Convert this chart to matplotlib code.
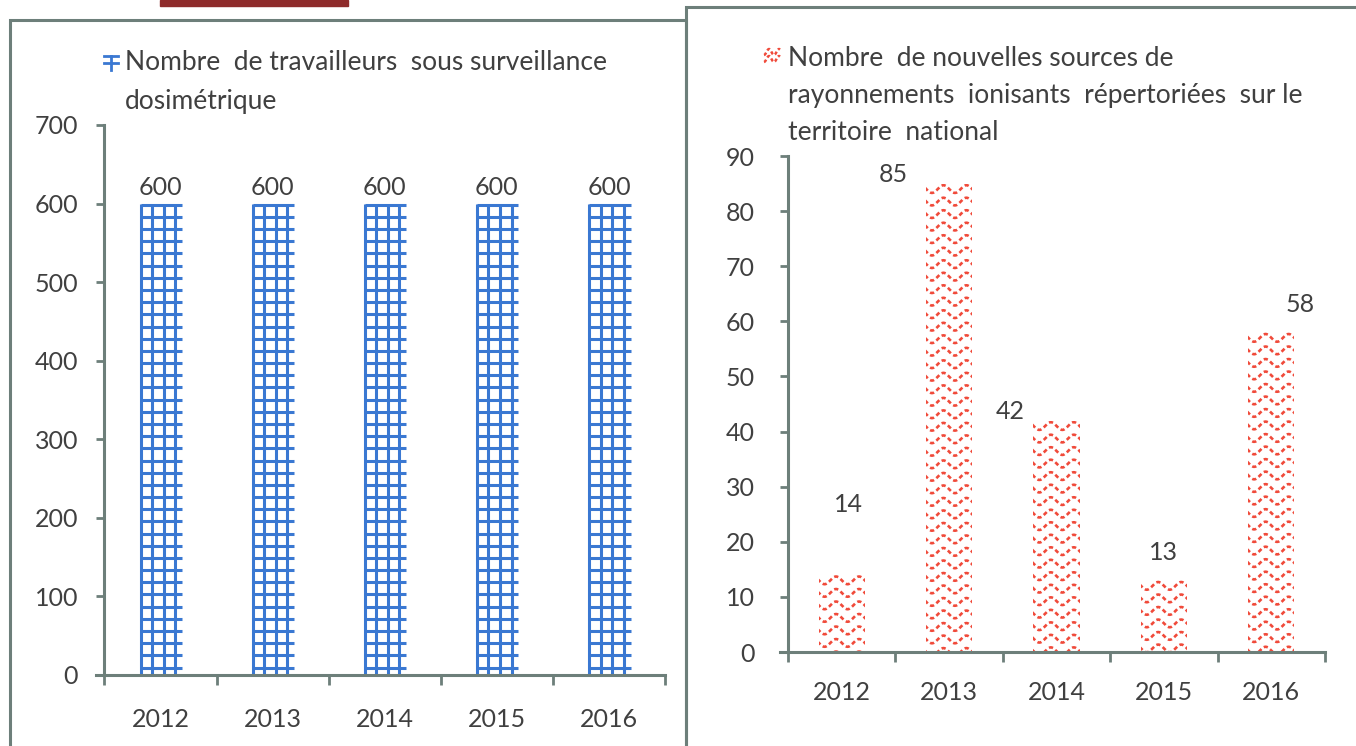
import numpy as np
import matplotlib
matplotlib.use("Agg")
import matplotlib.pyplot as plt
from matplotlib.patches import Rectangle
from matplotlib.lines import Line2D

plt.rcParams['font.family'] = ['Lato', 'DejaVu Sans']

# data
years = ['2012', '2013', '2014', '2015', '2016']
workers = [600, 600, 600, 600, 600]
sources = [14, 85, 42, 13, 58]
# where the labels of the right chart were moved to (x shift, y value)
src_label_dx = [0.06, -0.52, -0.43, 0.0, 0.27]
src_label_y = [26.7, 86.6, 43.6, 18.1, 63.0]

title_left = "Nombre  de travailleurs  sous surveillance\ndosimétrique"
title_right = ("Nombre  de nouvelles sources de\n"
               "rayonnements  ionisants  répertoriées  sur le\n"
               "territoire  national")

W, H = 1356, 746
txt = '#404040'
axc = '#6d7f7a'
blue = '#3a78d2'
red = '#f04a3a'
fs = 18

fig = plt.figure(figsize=(W / 100, H / 100), dpi=100)
fig.patch.set_facecolor('white')


def box(x0, y0, x1, y1):
    return [x0 / W, 1 - y1 / H, (x1 - x0) / W, (y1 - y0) / H]


def style(ax, ymax, ystep, ypad, xpad):
    for s in ['top', 'right']:
        ax.spines[s].set_visible(False)
    for s in ['left', 'bottom']:
        ax.spines[s].set_color(axc)
        ax.spines[s].set_linewidth(2.2)
    ax.spines['left'].set_position(('data', -0.5))
    ax.set_xlim(-0.575, 4.5)
    ax.set_ylim(0, ymax)
    ax.set_yticks(np.arange(0, ymax + 1, ystep))
    ax.set_xticks(np.arange(-0.5, 5, 1))
    ax.set_xticklabels([])
    ax.set_xticks(range(5), minor=True)
    ax.set_xticklabels(years, minor=True)
    ax.tick_params(axis='x', which='major', length=7, width=2, color=axc, direction='out')
    ax.tick_params(axis='x', which='minor', length=0, pad=xpad, labelsize=fs, labelcolor=txt)
    ax.tick_params(axis='y', length=6, width=2, color=axc, direction='out',
                   pad=ypad, labelsize=fs, labelcolor=txt)
    ax.set_facecolor('none')


# frames of the two panels
fig.patches.append(Rectangle((10 / W, -0.05), 676 / W, 1 - 20 / H + 0.05,
                             transform=fig.transFigure, fill=False,
                             edgecolor=axc, lw=2.2))
fig.patches.append(Rectangle((686 / W, -0.05), 0.6, 1 - 7 / H + 0.05,
                             transform=fig.transFigure, fill=False,
                             edgecolor=axc, lw=2.2))
fig.patches.append(Rectangle((160 / W, 1 - 6 / H), 188 / W, 6 / H,
                             transform=fig.transFigure, color='#8e2b2b'))

# ---- left chart
ax1 = fig.add_axes(box(96, 125, 665, 675))
style(ax1, 700, 100, 13, 24)
bw1 = 0.385
bars1 = ax1.bar(range(5), workers, width=bw1, color='none', edgecolor='none')
for i, v in enumerate(workers):
    left = i - bw1 / 2
    for off in [0.015, 0.118, 0.221, 0.324]:
        ax1.plot([left + off, left + off], [0, v], color=blue, lw=2.2,
                 solid_capstyle='butt')
    ys = np.arange(v - 1.5, 0, -15.5)
    ax1.hlines(ys, left + 0.015, left + bw1, color=blue, lw=2.2)
    ax1.text(i, v + 6, str(v), ha='center', va='bottom', fontsize=fs, color=txt)

fig.add_artist(Line2D([104 / W, 118 / W], [1 - 56 / H] * 2, color=blue, lw=2))
fig.add_artist(Line2D([104 / W, 118 / W], [1 - 63 / H] * 2, color=blue, lw=2))
fig.add_artist(Line2D([111 / W, 111 / W], [1 - 56 / H, 1 - 70 / H], color=blue, lw=2))
fig.text(125 / W, 1 - 50 / H, title_left, ha='left', va='top', fontsize=19,
         color=txt, linespacing=1.7)

# ---- right chart
ax2 = fig.add_axes(box(780, 156, 1325, 652))
style(ax2, 90, 10, 18, 21)
bw2 = 0.43
bars2 = ax2.bar(range(5), sources, width=bw2, color='none', edgecolor='none')
xs = np.linspace(-0.5, 0.5, 200)
for i, (v, rect) in enumerate(zip(sources, bars2)):
    for y0 in np.arange(v - 1.0, -3, -2.27):
        wave = y0 - 0.7 * np.cos((xs - 0.054) * 2 * np.pi / 0.214)
        ln, = ax2.plot(i + xs, wave, color=red, lw=1.9,
                       linestyle=(0, (1.6, 1.1)))
        ln.set_clip_path(rect)
    ax2.text(i + src_label_dx[i], src_label_y[i], str(v), ha='center',
             va='center', fontsize=fs, color=txt)

# small wavy key
kx = np.linspace(764, 780, 30)
ky = 52 + 3 * np.cos((kx - 764) * 2 * np.pi / 10)
fig.add_artist(Line2D(kx / W, 1 - ky / H, color=red, lw=1.8, linestyle=(0, (1.3, 1.0))))
fig.add_artist(Line2D(kx / W, 1 - (ky + 7) / H, color=red, lw=1.8, linestyle=(0, (1.3, 1.0))))
fig.text(788 / W, 1 - 46 / H, title_right, ha='left', va='top', fontsize=19,
         color=txt, linespacing=1.6)

fig.savefig('out.png', dpi=100, facecolor='white')
